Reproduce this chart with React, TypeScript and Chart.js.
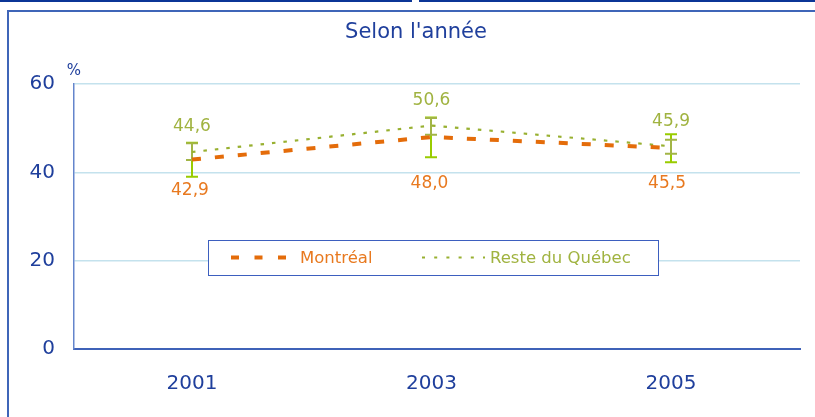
import React, { useEffect, useRef } from 'react';
import { Chart, registerables } from 'chart.js';

Chart.register(...registerables);

const years = [2001, 2003, 2005];
const montreal = [42.9, 48.0, 45.5];
const reste = [44.6, 50.6, 45.9];
const montrealLow = [39.0, 43.4, 42.3];
const montrealHigh = [46.7, 52.4, 48.6];
const resteLow = [42.8, 48.5, 44.2];
const resteHigh = [46.6, 52.3, 47.4];
const yTicks = [0, 20, 40, 60];
const seriesNames = ['Montréal', 'Reste du Québec'];
const chartTitle = "Selon l'année";
const unitLabel = '%';

const fmt = (v: number) => v.toFixed(1).replace('.', ',');

const C_TITLE = '#1f3f9c';
const C_MTL = '#e46c0a';
const C_MTL_TXT = '#e8791f';
const C_RQ = '#98b030';
const C_RQ_TXT = '#a0b340';
const C_MTL_ERR = '#99cc00';
const C_RQ_ERR = '#a2b546';
const FONT = '"DejaVu Sans", Verdana, sans-serif';

// label placement offsets (pixels) for Montréal labels below the points
const mtlLabelDy = [31, 47, 36];
const mtlLabelDx = [-2, -2, -4];

const decor = {
  id: 'decor',
  beforeDraw(chart: any) {
    const { ctx, width, height } = chart;
    ctx.save();
    ctx.fillStyle = '#ffffff';
    ctx.fillRect(0, 0, width, height);
    ctx.fillStyle = '#0b3596';
    ctx.fillRect(0, 0, 412, 2);
    ctx.fillRect(419, 0, width - 419, 2);
    ctx.fillStyle = '#3f65b8';
    ctx.fillRect(7, 10, width - 7, 2);
    ctx.fillRect(7, 10, 2, height - 10);
    ctx.fillStyle = C_TITLE;
    ctx.font = `21px ${FONT}`;
    ctx.textAlign = 'center';
    ctx.textBaseline = 'alphabetic';
    ctx.fillText(chartTitle, 416, 38);
    ctx.font = `15px ${FONT}`;
    ctx.fillText(unitLabel, 74, 75);
    ctx.restore();
  },
  beforeDatasetsDraw(chart: any) {
    const { ctx } = chart;
    const xs = chart.scales.x;
    const ys = chart.scales.y;
    const drawBar = (x: number, lo: number, hi: number, color: string) => {
      const y1 = ys.getPixelForValue(lo);
      const y2 = ys.getPixelForValue(hi);
      ctx.strokeStyle = color;
      ctx.lineWidth = 2;
      ctx.beginPath();
      ctx.moveTo(x, y1);
      ctx.lineTo(x, y2);
      ctx.moveTo(x - 6, y1);
      ctx.lineTo(x + 6, y1);
      ctx.moveTo(x - 6, y2);
      ctx.lineTo(x + 6, y2);
      ctx.stroke();
    };
    ctx.save();
    years.forEach((yr, i) => {
      const x = Math.round(xs.getPixelForValue(yr));
      drawBar(x, montrealLow[i], montrealHigh[i], C_MTL_ERR);
      drawBar(x, resteLow[i], resteHigh[i], C_RQ_ERR);
    });
    ctx.restore();
  },
  afterDatasetsDraw(chart: any) {
    const { ctx } = chart;
    const xs = chart.scales.x;
    const ys = chart.scales.y;
    ctx.save();
    ctx.font = `17px ${FONT}`;
    ctx.textAlign = 'center';
    ctx.textBaseline = 'middle';
    years.forEach((yr, i) => {
      const x = xs.getPixelForValue(yr);
      ctx.fillStyle = C_RQ_TXT;
      ctx.fillText(fmt(reste[i]), x, ys.getPixelForValue(reste[i]) - 25);
      ctx.fillStyle = C_MTL_TXT;
      ctx.fillText(fmt(montreal[i]), x + mtlLabelDx[i], ys.getPixelForValue(montreal[i]) + mtlLabelDy[i]);
    });
    const bx = 208.5, by = 240.5, bw = 450, bh = 35;
    ctx.fillStyle = '#ffffff';
    ctx.fillRect(bx, by, bw, bh);
    ctx.strokeStyle = '#3d5fbf';
    ctx.lineWidth = 1;
    ctx.strokeRect(bx, by, bw, bh);
    const ly = 257.5;
    ctx.lineCap = 'butt';
    ctx.strokeStyle = C_MTL;
    ctx.lineWidth = 4;
    ctx.setLineDash([8, 15.5]);
    ctx.beginPath();
    ctx.moveTo(231, ly);
    ctx.lineTo(287, ly);
    ctx.stroke();
    ctx.strokeStyle = C_RQ;
    ctx.lineWidth = 2;
    ctx.setLineDash([3, 9.2]);
    ctx.beginPath();
    ctx.moveTo(422, ly);
    ctx.lineTo(485, ly);
    ctx.stroke();
    ctx.setLineDash([]);
    ctx.textAlign = 'left';
    ctx.font = `16.5px ${FONT}`;
    ctx.fillStyle = C_MTL_TXT;
    ctx.fillText(seriesNames[0], 300, 259);
    ctx.fillStyle = C_RQ_TXT;
    ctx.fillText(seriesNames[1], 490, 259);
    ctx.restore();
  },
};

export default function App() {
  const ref = useRef<HTMLCanvasElement>(null);
  useEffect(() => {
    if (!ref.current) return;
    const chart = new Chart(ref.current, {
      type: 'line',
      data: {
        datasets: [
          {
            label: seriesNames[0],
            data: years.map((y, i) => ({ x: y, y: montreal[i] })),
            borderColor: C_MTL,
            borderWidth: 4,
            borderDash: [9, 14],
            borderCapStyle: 'butt',
            pointRadius: 0,
            fill: false,
            tension: 0,
          },
          {
            label: seriesNames[1],
            data: years.map((y, i) => ({ x: y, y: reste[i] })),
            borderColor: C_RQ,
            borderWidth: 2.2,
            borderDash: [3.5, 8],
            borderCapStyle: 'butt',
            pointRadius: 0,
            fill: false,
            tension: 0,
          },
        ],
      },
      options: {
        responsive: false,
        animation: false,
        devicePixelRatio: 1,
        layout: { padding: { left: 0, top: 84, right: 15, bottom: 0 } },
        plugins: {
          legend: { display: false },
          title: { display: false },
          tooltip: { enabled: false },
        },
        scales: {
          x: {
            type: 'linear',
            min: 2000.015,
            max: 2006.077,
            afterBuildTicks: (s: any) => {
              s.ticks = years.map((v) => ({ value: v }));
            },
            afterFit: (s: any) => {
              s.height = 68;
            },
            grid: { display: false, drawTicks: false },
            border: { display: true, color: '#3f62b8', width: 2 },
            ticks: {
              color: C_TITLE,
              font: { family: FONT, size: 20 },
              padding: 23,
              maxRotation: 0,
              autoSkip: false,
              callback: (v: any) => String(v),
            },
          },
          y: {
            min: 0,
            max: 60,
            afterBuildTicks: (s: any) => {
              s.ticks = yTicks.map((v) => ({ value: v }));
            },
            afterFit: (s: any) => {
              s.width = 74;
            },
            grid: {
              drawTicks: false,
              color: (c: any) => (c.tick && c.tick.value === 0 ? 'rgba(0,0,0,0)' : '#c4e2ed'),
              lineWidth: 1.5,
            },
            border: { display: true, color: '#6485cc', width: 1.5 },
            ticks: {
              color: C_TITLE,
              font: { family: FONT, size: 20 },
              padding: 19,
              callback: (v: any) => String(v),
            },
          },
        },
      },
      plugins: [decor],
    } as any);
    return () => chart.destroy();
  }, []);
  return (
    <div style={{ position: 'absolute', left: 0, top: 0, width: 815, height: 417 }}>
      <canvas ref={ref} width={815} height={417} style={{ display: 'block' }} />
    </div>
  );
}
